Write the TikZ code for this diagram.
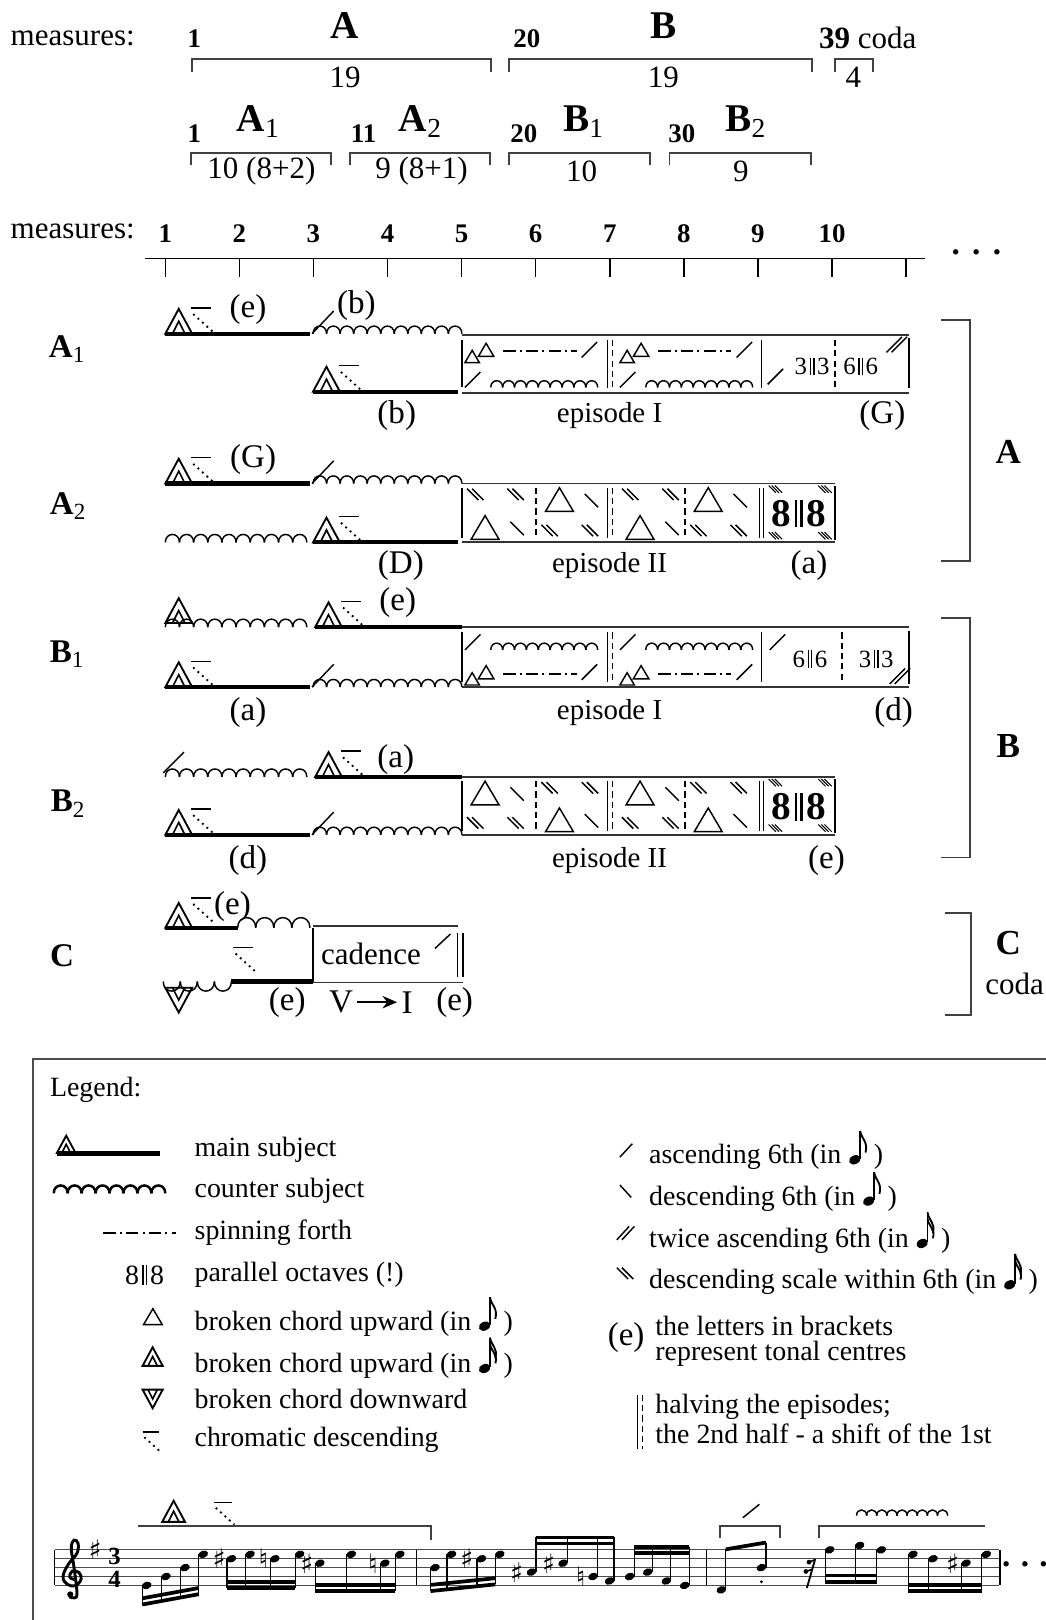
\documentclass[tikz,border=0pt]{standalone}
\usepackage{fontspec}
\setmainfont{Liberation Serif}
\newfontfamily\symfont{DejaVu Sans}
\usetikzlibrary{arrows.meta}

\newcommand{\octv}[1]{#1\kern0.1em\rule[-0.02em]{0.06em}{0.7em}\kern0.08em\rule[-0.02em]{0.06em}{0.7em}\kern0.1em#1}
\newcommand{\eighthN}{\tikz[x=1pt,y=1pt,baseline=-2pt]{\fill[rotate=25] (0,0) ellipse (2.9 and 2.1); \draw[line width=0.7pt] (2.6,0.6) -- (2.6,14); \draw[line width=0.9pt] (2.6,14) .. controls (3.2,10) and (6.5,9) .. (5.2,3.5);}}
\newcommand{\sixteenthN}{\tikz[x=1pt,y=1pt,baseline=-2pt]{\fill[rotate=25] (0,0) ellipse (2.9 and 2.1); \draw[line width=0.7pt] (2.6,0.6) -- (2.6,15); \draw[line width=0.9pt] (2.6,15) .. controls (3.2,11) and (6.5,10) .. (5.2,5); \draw[line width=0.9pt] (2.6,12) .. controls (3.2,8) and (6.5,7) .. (5.2,2.5);}}

\begin{document}
\begin{tikzpicture}[
  x=0.5pt,
  y=-0.5pt,
  every node/.style={font=\fontsize{15}{18}\selectfont, inner sep=0pt},
  lab/.style={font=\fontsize{16}{18}\selectfont},
  eptxt/.style={font=\fontsize{14}{16}\selectfont},
  numtxt/.style={font=\bfseries\fontsize{13}{15}\selectfont},
  bigtxt/.style={font=\bfseries\fontsize{19}{22}\selectfont},
  voicetxt/.style={font=\bfseries\fontsize{16}{18}\selectfont},
  sidetxt/.style={font=\bfseries\fontsize{17}{20}\selectfont},
  legtxt/.style={font=\fontsize{13.5}{16}\selectfont, anchor=west},
  smalltxt/.style={font=\fontsize{12}{14}\selectfont},
  octtxt/.style={font=\bfseries\fontsize{19}{22}\selectfont},
  acc/.style={font=\symfont\fontsize{13}{13}\selectfont},
  lin/.style={line width=0.7pt},
  subj/.style={line width=2pt},
  scl/.style={line width=0.7pt},
  boxl/.style={line width=0.9pt, black!80},
  brack/.style={line width=0.9pt, black!75},
  spin/.style={line width=1pt, dash pattern=on 6pt off 2pt on 1pt off 2pt},
  qdash/.style={line width=0.7pt, dash pattern=on 3pt off 2pt},
  staffl/.style={line width=0.5pt, black!70},
  stemln/.style={line width=0.6pt},
  beamln/.style={line width=1.8pt}
]

\useasboundingbox (0,0) rectangle (1012,1568);

\def\dx{71.7}
\def\dtri#1#2{\draw[line width=0.9pt] (#1,#2) -- ++(13,-24) -- ++(13,24) -- cycle; \draw[line width=0.8pt] ({#1+7},#2) -- ++(6,-12) -- ++(6,12);}
\def\dtriv#1#2{\draw[line width=0.9pt] (#1,#2) -- ++(13,24) -- ++(13,-24) -- cycle; \draw[line width=0.8pt] ({#1+7},#2) -- ++(6,12) -- ++(6,-12);}
\def\chrom#1#2{\draw[lin] (#1,#2) -- ++(19,0); \draw[line width=0.9pt, dotted] ({#1+2},{#2+6}) -- ++(20,18);}
\def\msubj#1#2#3{\draw[subj] (#1,#3) -- (#2,#3); \dtri{#1}{#3} \chrom{#1+25}{#3-25}}
\def\scal#1#2#3#4{\foreach \i in {1,...,#3}{\draw[scl] ({#1+(\i-1)*#4},#2) .. controls +(0,{-0.75*#4}) and +(0,{-0.75*#4}) .. ({#1+\i*#4},#2);}}
\def\scald#1#2#3#4{\foreach \i in {1,...,#3}{\draw[scl] ({#1+(\i-1)*#4},#2) .. controls +(0,{0.75*#4}) and +(0,{0.75*#4}) .. ({#1+\i*#4},#2);}}
\def\asc#1#2{\draw[lin] (#1,#2) -- ++(15,-15);}
\def\dsc#1#2{\draw[lin] (#1,#2) -- ++(13,13);}
\def\dasc#1#2{\asc{#1}{#2}\asc{#1+5}{#2}}
\def\ddsc#1#2{\foreach \k in {0,1}{\draw[line width=0.7pt] ({#1+\k*5},#2) -- ++(11,11);}}
\def\corner#1#2{\foreach \k in {0,1,2}{\draw[line width=0.5pt] ({#1+\k*3},#2) -- ++(7,7);}}
\def\tri#1#2#3{\draw[lin] (#1,#2) -- ++({#3/2},{-0.85*#3}) -- ++({#3/2},{0.85*#3}) -- cycle;}
\def\rowtri#1#2{\tri{#1+3}{#2+6}{14}\tri{#1+16}{#2}{15}\draw[spin] ({#1+40},{#2-5}) -- ({#1+111},{#2-5});\asc{#1+116}{#2+1}}
\def\rowscal#1#2{\asc{#1+3}{#2}\scal{#1+28}{#2}{9}{11.5}}
\def\trirow#1#2{\tri{#1+9}{#2}{27}\dsc{#1+47}{#2-17}}
\def\scalerow#1#2{\ddsc{#1+5}{#2-6}\ddsc{#1+44}{#2-6}}
\def\halfsep#1#2#3{\draw[lin] (#1,#2) -- (#1,#3); \draw[qdash] ({#1+5},#2) -- ({#1+5},#3);}
\def\octend#1#2{\draw[lin] (735,{#1+4}) -- (735,{#2-4}); \draw[lin] (739,{#1+4}) -- (739,{#2-4});
  \corner{744}{#1+2} \corner{792}{#1+2} \corner{744}{#2-10} \corner{792}{#2-10}
  \draw[lin] (808,{#1+2}) -- (808,{#2-2});}
\def\nh#1#2{\fill[rotate around={20:(#1,{1534.5-4.3*(#2)})}] (#1,{1534.5-4.3*(#2)}) ellipse [x radius=4.8, y radius=3.5];}
\def\sd#1#2#3{\nh{#1}{#2}\draw[stemln] ({#1-4.3},{1534.5-4.3*(#2)}) -- ({#1-4.3},#3);}
\def\su#1#2#3{\nh{#1}{#2}\draw[stemln] ({#1+4.3},{1534.5-4.3*(#2)}) -- ({#1+4.3},#3);}

% sections
\node[anchor=west] (meas) at (10,37) {measures:};
\node[numtxt] (m1) at (188,37) {1};
\node[bigtxt] (secA) at (334,25) {A};
\draw[brack] (186,70) -- (186,57) -- (475,57) -- (475,70);
\node (lenA) at (334,75) {19};
\node[numtxt] (m20) at (510,37) {20};
\node[bigtxt] (secB) at (642,25) {B};
\draw[brack] (493,70) -- (493,57) -- (786,57) -- (786,70);
\node (lenB) at (642,75) {19};
\node (m39) at (840,37) {\textbf{39} coda};
\draw[brack] (808,70) -- (808,57) -- (845,57) -- (845,70);
\node (lenC) at (826,75) {4};

\node[numtxt] (n1) at (188,129) {1};
\node[bigtxt] (secA1) at (250,118) {A\textsubscript{\mdseries 1}};
\draw[brack] (185,160) -- (185,148) -- (320,148) -- (320,160);
\node (lenA1) at (253,166) {10 (8+2)};
\node[numtxt] (n11) at (352,129) {11};
\node[bigtxt] (secA2) at (407,118) {A\textsubscript{\mdseries 2}};
\draw[brack] (339,160) -- (339,148) -- (474,148) -- (474,160);
\node (lenA2) at (408,166) {9 (8+1)};
\node[numtxt] (n20) at (507,129) {20};
\node[bigtxt] (secB1) at (565,118) {B\textsubscript{\mdseries 1}};
\draw[brack] (493,160) -- (493,148) -- (629,148) -- (629,160);
\node (lenB1) at (563,166) {10};
\node[numtxt] (n30) at (660,129) {30};
\node[bigtxt] (secB2) at (722,118) {B\textsubscript{\mdseries 2}};
\draw[brack] (648,160) -- (648,148) -- (785,148) -- (785,160);
\node (lenB2) at (717,166) {9};

% ruler
\node[anchor=west] (meas2) at (10,224) {measures:};
\draw[lin] (140,250) -- (895,250);
\foreach \k in {1,...,10}
  \node[numtxt] (r\k) at ({160+(\k-1)*\dx},226) {\k};
\foreach \k in {0,...,10}
  \draw[lin] ({160+\k*\dx},250) -- ({160+\k*\dx},268);
\node[font=\bfseries\fontsize{16}{18}\selectfont] (rdots) at (945,244) {.\hspace{6pt}.\hspace{6pt}.};

% A1
\node[voicetxt] (vA1) at (65,338) {A\textsubscript{\mdseries 1}};
\msubj{160}{300}{323}
\node[lab] (tA1a) at (240,300) {(e)};
\draw[lin] (302,323) -- ++(21,-22);
\node[lab] (tA1b) at (345,296) {(b)};
\scal{303}{323}{11}{13.1}
\msubj{303}{443}{379}
\node[lab] (tA1c) at (384,402) {(b)};
\draw[boxl] (447,324) -- (880,324);
\draw[boxl] (447,380) -- (880,380);
\draw[lin] (447,329) -- (447,375);
\rowtri{447}{345} \rowscal{447}{375}
\halfsep{588}{329}{376}
\rowtri{597}{345} \rowscal{597}{375}
\draw[lin] (737,329) -- (737,376);
\asc{743}{372}
\node[smalltxt] (oA1a) at (786,355) {\octv{3}};
\draw[qdash] (808,329) -- (808,376);
\node[smalltxt] (oA1b) at (833,355) {\octv{6}};
\dasc{858}{341}
\draw[lin] (880,327) -- (880,376);
\node[eptxt] (epA1) at (590,402) {episode I};
\node[lab] (tA1d) at (854,402) {(G)};

% A2
\node[voicetxt] (vA2) at (66,490) {A\textsubscript{\mdseries 2}};
\msubj{160}{300}{468}
\node[lab] (tA2a) at (245,445) {(G)};
\draw[lin] (302,468) -- ++(21,-22);
\scal{303}{468}{11}{13.1}
\scal{160}{525}{10}{13.7}
\msubj{303}{443}{525}
\node[lab] (tA2b) at (388,547) {(D)};
\draw[boxl] (447,468) -- (808,468);
\draw[boxl] (447,525) -- (808,525);
\draw[lin] (447,472) -- (447,521);
\scalerow{447}{479} \trirow{519}{495} \scalerow{597}{479} \trirow{663}{495}
\trirow{447}{522} \scalerow{519}{514} \trirow{597}{522} \scalerow{663}{514}
\draw[qdash] (519,472) -- (519,521);
\draw[qdash] (663,472) -- (663,521);
\halfsep{588}{472}{521}
\octend{468}{525}
\node[octtxt] (oA2) at (773,497) {\octv{8}};
\node[eptxt] (epA2) at (590,547) {episode II};
\node[lab] (tA2c) at (783,547) {(a)};

% B1
\node[voicetxt] (vB1) at (65,633) {B\textsubscript{\mdseries 1}};
\dtri{160}{603}
\scal{160}{607}{10}{13.7}
\msubj{305}{447}{607}
\node[lab] (tB1a) at (385,583) {(e)};
\msubj{160}{300}{665}
\node[lab] (tB1b) at (240,690) {(a)};
\draw[lin] (302,665) -- ++(21,-22);
\scal{303}{665}{11}{13.1}
\draw[boxl] (447,607) -- (880,607);
\draw[boxl] (447,665) -- (880,665);
\draw[lin] (447,612) -- (447,660);
\rowscal{447}{629} \rowtri{447}{657}
\halfsep{588}{612}{660}
\rowscal{597}{629} \rowtri{597}{657}
\draw[lin] (737,612) -- (737,660);
\asc{745}{629}
\node[smalltxt] (oB1a) at (784,638) {\octv{6}};
\draw[qdash] (815,612) -- (815,660);
\node[smalltxt] (oB1b) at (848,638) {\octv{3}};
\dasc{861}{662}
\draw[lin] (880,611) -- (880,662);
\node[eptxt] (epB1) at (590,690) {episode I};
\node[lab] (tB1c) at (865,690) {(d)};

% B2
\node[voicetxt] (vB2) at (66,778) {B\textsubscript{\mdseries 2}};
\draw[lin] (158,748) -- ++(20,-20);
\scal{160}{752}{10}{13.7}
\msubj{305}{447}{752}
\node[lab] (tB2a) at (383,735) {(a)};
\msubj{160}{300}{808}
\node[lab] (tB2b) at (240,833) {(d)};
\draw[lin] (302,808) -- ++(21,-22);
\scal{303}{808}{11}{13.1}
\draw[boxl] (447,752) -- (808,752);
\draw[boxl] (447,808) -- (808,808);
\draw[lin] (447,756) -- (447,804);
\trirow{447}{779} \scalerow{519}{763} \trirow{597}{779} \scalerow{663}{763}
\scalerow{447}{797} \trirow{519}{805} \scalerow{597}{797} \trirow{663}{805}
\draw[qdash] (519,756) -- (519,804);
\draw[qdash] (663,756) -- (663,804);
\halfsep{588}{756}{804}
\octend{752}{808}
\node[octtxt] (oB2) at (773,781) {\octv{8}};
\node[eptxt] (epB2) at (590,833) {episode II};
\node[lab] (tB2c) at (800,833) {(e)};

% C
\node[voicetxt] (vC) at (60,925) {C};
\draw[subj] (160,898) -- (230,898);
\dtri{160}{898}
\chrom{185}{869}
\node[lab] (tCa) at (225,877) {(e)};
\scal{230}{898}{4}{17.5}
\draw[boxl] (303,896) -- (443,896);
\draw[lin] (303,898) -- (303,950);
\draw[boxl] (303,951) -- (448,951);
\draw[lin] (443,903) -- (443,946);
\draw[lin] (448,903) -- (448,946);
\draw[lin] (421,918) -- ++(15,-14);
\node (cad) at (359,923) {cadence};
\scald{158}{950}{4}{16.5}
\draw[subj] (224,950) -- (303,950);
\chrom{226}{917}
\dtriv{160}{956}
\node[lab] (tCb) at (278,970) {(e)};
\node[lab] (cV) at (330,970) {V};
\node[lab] (cI) at (394,970) {I};
\draw[line width=1.1pt, -{Stealth[length=7pt,width=6pt]}, shorten <=2pt, shorten >=2pt] (cV) -- (cI);
\node[lab] (tCc) at (440,970) {(e)};

% brackets right
\draw[brack] (911,310) -- (939,310) -- (939,543) -- (911,543);
\node[sidetxt] (rA) at (976,437) {A};
\draw[brack] (911,598) -- (939,598) -- (939,830) -- (911,830);
\node[sidetxt] (rB) at (976,722) {B};
\draw[brack] (915,884) -- (940,884) -- (940,982) -- (915,982);
\node[sidetxt] (rC) at (976,913) {C};
\node (rcoda) at (982,952) {coda};

% legend
\draw[line width=0.9pt, black!70] (32,1575) -- (32,1025) -- (1020,1025);
\node[legtxt] (legT) at (48,1055) {Legend:};
\draw[line width=2.4pt] (55,1116) -- (155,1116);
\begin{scope}[shift={(55,1116)}, scale=0.7] \dtri{0}{0} \end{scope}
\node[legtxt] (lg1) at (188,1113) {main subject};
\begin{scope}[scl/.style={line width=1.2pt}] \scal{52}{1155}{8}{13.5} \end{scope}
\node[legtxt] (lg2) at (188,1153) {counter subject};
\draw[spin] (100,1193) -- (170,1193);
\node[legtxt] (lg3) at (188,1193) {spinning forth};
\node[font=\fontsize{13.5}{16}\selectfont] (lg4s) at (140,1234) {\octv{8}};
\node[legtxt] (lg4) at (188,1234) {parallel octaves (!)};
\tri{139}{1282}{18}
\node[legtxt] (lg5) at (188,1274) {broken chord upward (in \eighthN\,)};
\begin{scope}[shift={(138,1322)}, scale=0.75] \dtri{0}{0} \end{scope}
\node[legtxt] (lg6) at (188,1314) {broken chord upward (in \sixteenthN\,)};
\begin{scope}[shift={(138,1345)}, scale=0.75] \dtriv{0}{0} \end{scope}
\node[legtxt] (lg7) at (188,1354) {broken chord downward};
\begin{scope}[shift={(138,1386)}, scale=0.85] \chrom{0}{0} \end{scope}
\node[legtxt] (lg8) at (188,1394) {chromatic descending};

\draw[lin] (600,1120) -- ++(12,-13);
\node[legtxt] (lr1) at (628,1113) {ascending 6th (in \eighthN\,)};
\draw[lin] (600,1147) -- ++(11,12);
\node[legtxt] (lr2) at (628,1153) {descending 6th (in \eighthN\,)};
\draw[lin] (597,1200) -- ++(12,-13);
\draw[lin] (602,1200) -- ++(12,-13);
\node[legtxt] (lr3) at (628,1193) {twice ascending 6th (in \sixteenthN\,)};
\ddsc{597}{1227}
\node[legtxt] (lr4) at (628,1233) {descending scale within 6th (in \sixteenthN\,)};
\node[lab] (lr5s) at (606,1295) {(e)};
\node[legtxt] (lr5a) at (634,1283) {the letters in brackets};
\node[legtxt] (lr5b) at (634,1310) {represent tonal centres};
\draw[lin] (617,1350) -- (617,1402);
\draw[qdash] (622,1350) -- (622,1402);
\node[legtxt] (lr6a) at (634,1362) {halving the episodes;};
\node[legtxt] (lr6b) at (634,1388) {the 2nd half - a shift of the 1st};

% music example
\foreach \i in {0,...,4}
  \draw[staffl] (53,{1500+8.6*\i}) -- (967,{1500+8.6*\i});
\draw[lin] (53,1500) -- (53,1534.4);
\draw[lin] (403,1500) -- (403,1534.4);
\draw[lin] (684,1500) -- (684,1534.4);
\draw[line width=1pt] (967.5,1500) -- (967.5,1534.4);
% treble clef
\begin{scope}[shift={(71,1526)}, xscale=10, yscale=9.8]
  \draw[line width=1.4pt, line cap=round] plot[smooth, tension=0.65] coordinates {(0.15,0.3) (-0.35,0.05) (-0.1,-0.55) (0.55,-0.4) (0.75,0.25) (0.2,0.9) (-0.6,0.75) (-1.0,0) (-0.5,-1.2) (0.35,-2.3) (0.45,-3.3) (0.05,-3.6) (-0.2,-2.8) (0.05,-1) (0.35,1.6) (0.1,2.1) (-0.35,2.0)};
  \fill (-0.3,1.75) circle (0.3);
\end{scope}
\node[acc] (ksig) at (92,1500) {♯};
\node[font=\bfseries\fontsize{12}{12}\selectfont] (ts3) at (111,1506) {3};
\node[font=\bfseries\fontsize{12}{12}\selectfont] (ts4) at (111,1529) {4};

\draw[brack] (134,1477) -- (417,1477) -- (417,1491);
\begin{scope}[shift={(157,1473)}, scale=0.85] \dtri{0}{0} \end{scope}
\begin{scope}[shift={(207,1454)}, scale=0.9] \chrom{0}{0} \end{scope}
\draw[brack] (697,1489) -- (697,1477) -- (755,1477) -- (755,1489);
\draw[lin] (719,1469) -- (735,1456);
\draw[brack] (793,1489) -- (793,1477) -- (953,1477);
\scal{829}{1467}{9}{9.8}

\sd{142}{0}{1553} \sd{160.6}{2}{1549.6} \sd{179}{4}{1546.2} \sd{196.7}{7}{1543}
\draw[beamln] (137.7,1553) -- (192.4,1543);
\draw[beamln] (137.7,1547) -- (192.4,1537);
\sd{224}{6}{1537} \sd{242}{7}{1537} \sd{266}{6}{1537} \sd{290}{7}{1537}
\draw[beamln] (219.7,1537) -- (285.7,1537);
\draw[beamln] (219.7,1531) -- (285.7,1531);
\node[acc] (a1) at (212,1509) {♯};
\node[acc] (a2) at (255,1509) {♮};
\sd{309.6}{5}{1540} \sd{340}{7}{1540} \sd{372.5}{5}{1540} \sd{387}{7}{1540}
\draw[beamln] (305.3,1540) -- (382.7,1540);
\draw[beamln] (305.3,1534) -- (382.7,1534);
\node[acc] (a3) at (297,1513) {♯};
\node[acc] (a4) at (361,1513) {♮};

\sd{421}{4}{1540} \sd{437}{7}{1538.3} \sd{466}{6}{1535.3} \sd{483.7}{7}{1533.5}
\draw[beamln] (416.7,1540) -- (479.4,1533.5);
\draw[beamln] (416.7,1534) -- (479.4,1527.5);
\node[acc] (a5) at (452,1509) {♯};
\su{514.4}{3}{1488} \su{545}{5}{1488} \su{574}{2}{1488} \su{590}{1}{1488}
\draw[beamln] (518.7,1488) -- (594.3,1488);
\draw[beamln] (518.7,1494) -- (594.3,1494);
\node[acc] (a6) at (500,1522) {♯};
\node[acc] (a7) at (531,1513) {♯};
\node[acc] (a8) at (562,1526) {♮};
\su{609.5}{2}{1497} \su{627}{3}{1497} \su{645}{1}{1497} \su{662.7}{0}{1497}
\draw[beamln] (613.8,1497) -- (667,1497);
\draw[beamln] (613.8,1503) -- (667,1503);

\su{698.2}{-1}{1499.6} \su{737}{4}{1493}
\draw[beamln] (702.5,1499.6) -- (741.3,1493);
\fill (737,1531) circle (1.5);
\draw[line width=0.9pt] (789,1509) -- (781,1537);
\fill (783,1512) circle (2.3);
\fill (780,1521) circle (2.3);
\draw[line width=0.8pt] (783,1512) -- (788,1510);
\draw[line width=0.8pt] (780,1521) -- (786,1519);
\sd{803}{8}{1531} \sd{832}{9}{1531} \sd{853}{8}{1531}
\draw[beamln] (798.7,1531) -- (848.7,1531);
\draw[beamln] (798.7,1525) -- (848.7,1525);
\sd{883.6}{7}{1540} \sd{903}{6}{1540} \sd{935}{5}{1540} \sd{954.6}{7}{1540}
\draw[beamln] (879.3,1540) -- (950.3,1540);
\draw[beamln] (879.3,1534) -- (950.3,1534);
\node[acc] (a9) at (922,1513) {♯};
\node[font=\bfseries\fontsize{16}{18}\selectfont] (mdots) at (992,1514) {.\hspace{5pt}.\hspace{5pt}.};

\end{tikzpicture}
\end{document}
